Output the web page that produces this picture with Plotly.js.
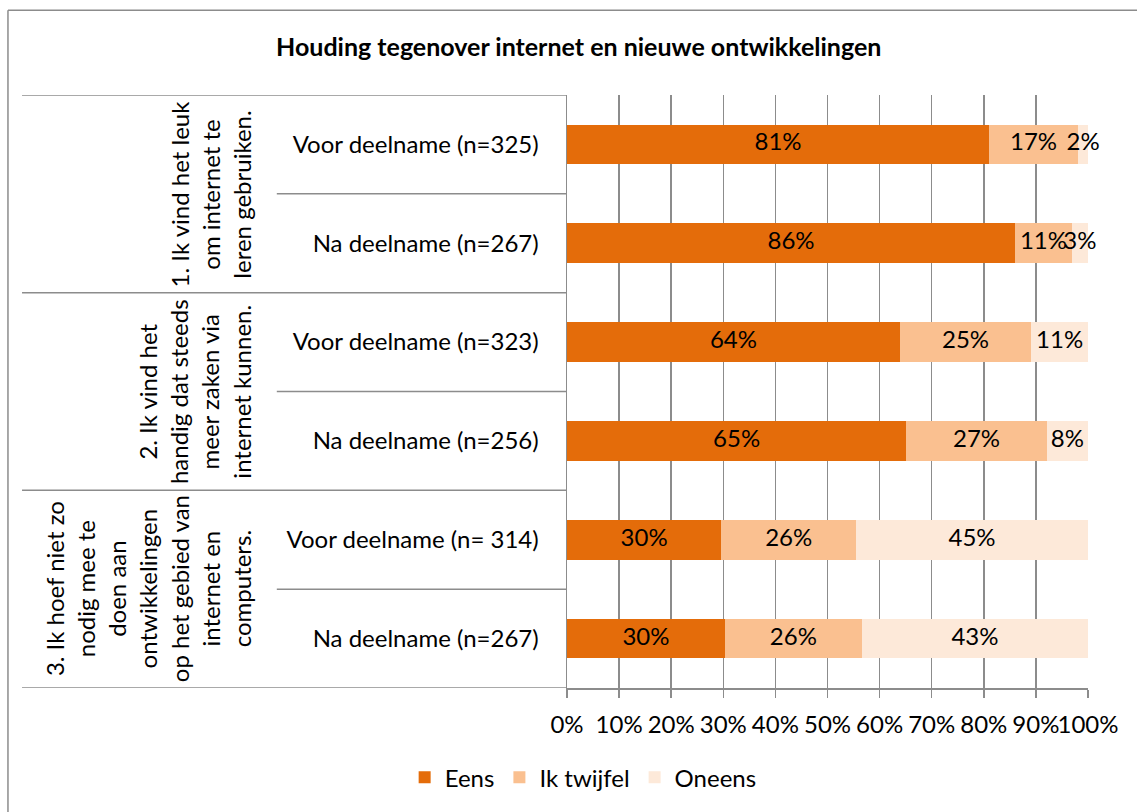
<!DOCTYPE html>
<html>
<head>
<meta charset="utf-8">
<script src="https://cdn.plot.ly/plotly-3.0.1.min.js"></script>
<style>
  html, body { margin: 0; padding: 0; background: #fff; }
  #chart { width: 1137px; height: 812px; }
</style>
</head>
<body>
<div id="chart"></div>
<script>
// rows, top to bottom
var rowLabels = ['Voor deelname (n=325)', 'Na deelname (n=267)',
                 'Voor deelname (n=323)', 'Na deelname (n=256)',
                 'Voor deelname (n= 314)', 'Na deelname (n=267)'];
var groupLabels = ['1. Ik vind het leuk<br>om internet te<br>leren gebruiken.',
                   '2. Ik vind het<br>handig dat steeds<br>meer zaken via<br>internet kunnen.',
                   '3. Ik hoef niet zo<br>nodig mee te<br>doen aan<br>ontwikkelingen<br>op het gebied van<br>internet en<br>computers.'];
var seriesNames = ['Eens', 'Ik twijfel', 'Oneens'];
var eens    = [81.0, 86.0, 63.9, 65.1, 29.6, 30.3];
var twijfel = [17.1, 10.9, 25.2, 27.0, 25.9, 26.3];
var oneens  = [ 1.9,  3.1, 10.9,  7.9, 44.5, 43.4];
var colors = ['#E46C0A', '#FAC090', '#FDE9D9'];

var FONT = 'Lato, "Open Sans", sans-serif';
var rows = rowLabels.map(function (_, i) { return i; });
var series = [eens, twijfel, oneens];

var data = [];
series.forEach(function (vals, k) {
  data.push({
    type: 'bar', orientation: 'h', name: seriesNames[k],
    x: vals, y: rows,
    marker: { color: colors[k] },
    hoverinfo: 'x+name'
  });
});

// value labels centred in each segment
var lx = [], ly = [], lt = [];
rows.forEach(function (r) {
  var start = 0;
  series.forEach(function (vals) {
    lx.push(start + vals[r] / 2);
    ly.push(r);
    lt.push(Math.round(vals[r]) + '%');
    start += vals[r];
  });
});
data.push({
  type: 'scatter', mode: 'text', x: lx, y: ly, text: lt,
  textfont: { family: FONT, size: 24, color: '#000' },
  showlegend: false, hoverinfo: 'skip', cliponaxis: false
});

// table lines on the left
var lineCol = '#8c8c8c';
var shapes = [];
[-0.5, 1.5, 3.5, 5.5].forEach(function (b) {
  shapes.push({ type: 'line', xref: 'paper', yref: 'y', x0: -1.046, x1: 0, y0: b, y1: b,
                line: { color: lineCol, width: 1.5 } });
});
[0.5, 2.5, 4.5].forEach(function (b) {
  shapes.push({ type: 'line', xref: 'paper', yref: 'y', x0: -0.557, x1: 0, y0: b, y1: b,
                line: { color: lineCol, width: 1.5 } });
});
// chart frame (top and left visible)
shapes.push({ type: 'line', xref: 'paper', yref: 'paper', x0: -1.073, x1: 2, y0: 1.143, y1: 1.143,
              line: { color: lineCol, width: 1.5 } });
shapes.push({ type: 'line', xref: 'paper', yref: 'paper', x0: -1.073, x1: -1.073, y0: 1.143, y1: -1,
              line: { color: lineCol, width: 1.5 } });

var annotations = groupLabels.map(function (g, i) {
  return {
    xref: 'paper', yref: 'y', x: -0.593, y: i * 2 + 0.5,
    xanchor: 'right', yanchor: 'middle', showarrow: false, textangle: -90,
    text: g, font: { family: FONT, size: 24, color: '#000' }
  };
});

var layout = {
  width: 1137, height: 812,
  margin: { l: 567, r: 49, t: 95, b: 122 },
  paper_bgcolor: '#fff', plot_bgcolor: '#fff',
  font: { family: FONT, size: 24, color: '#000' },
  title: {
    text: '<b>Houding tegenover internet en nieuwe ontwikkelingen</b>',
    font: { family: FONT, size: 25, color: '#000' },
    x: 0.509, xanchor: 'center', y: 0.942, yanchor: 'middle'
  },
  barmode: 'stack',
  bargap: 0.6,
  xaxis: {
    range: [0, 100], dtick: 10, ticksuffix: '%', tickangle: 0,
    showgrid: true, gridcolor: lineCol, gridwidth: 1.5,
    showline: true, linecolor: lineCol, linewidth: 1.5,
    ticks: 'outside', ticklen: 8, tickcolor: lineCol, tickwidth: 1.5,
    ticklabelstandoff: 7,
    zeroline: false, tickfont: { size: 24 }, fixedrange: true
  },
  yaxis: {
    range: [5.5, -0.5], tickvals: rows, ticktext: rowLabels,
    showgrid: false, zeroline: false, showline: true, linecolor: lineCol, linewidth: 1.5,
    ticks: '', ticklabelstandoff: 22, tickfont: { size: 24 }, fixedrange: true
  },
  showlegend: true,
  legend: {
    orientation: 'h', x: 0.031, xanchor: 'center', y: -0.151, yanchor: 'middle',
    font: { size: 24 }, traceorder: 'normal'
  },
  shapes: shapes,
  annotations: annotations
};

Plotly.newPlot('chart', data, layout, { displayModeBar: false, staticPlot: true });
</script>
</body>
</html>
